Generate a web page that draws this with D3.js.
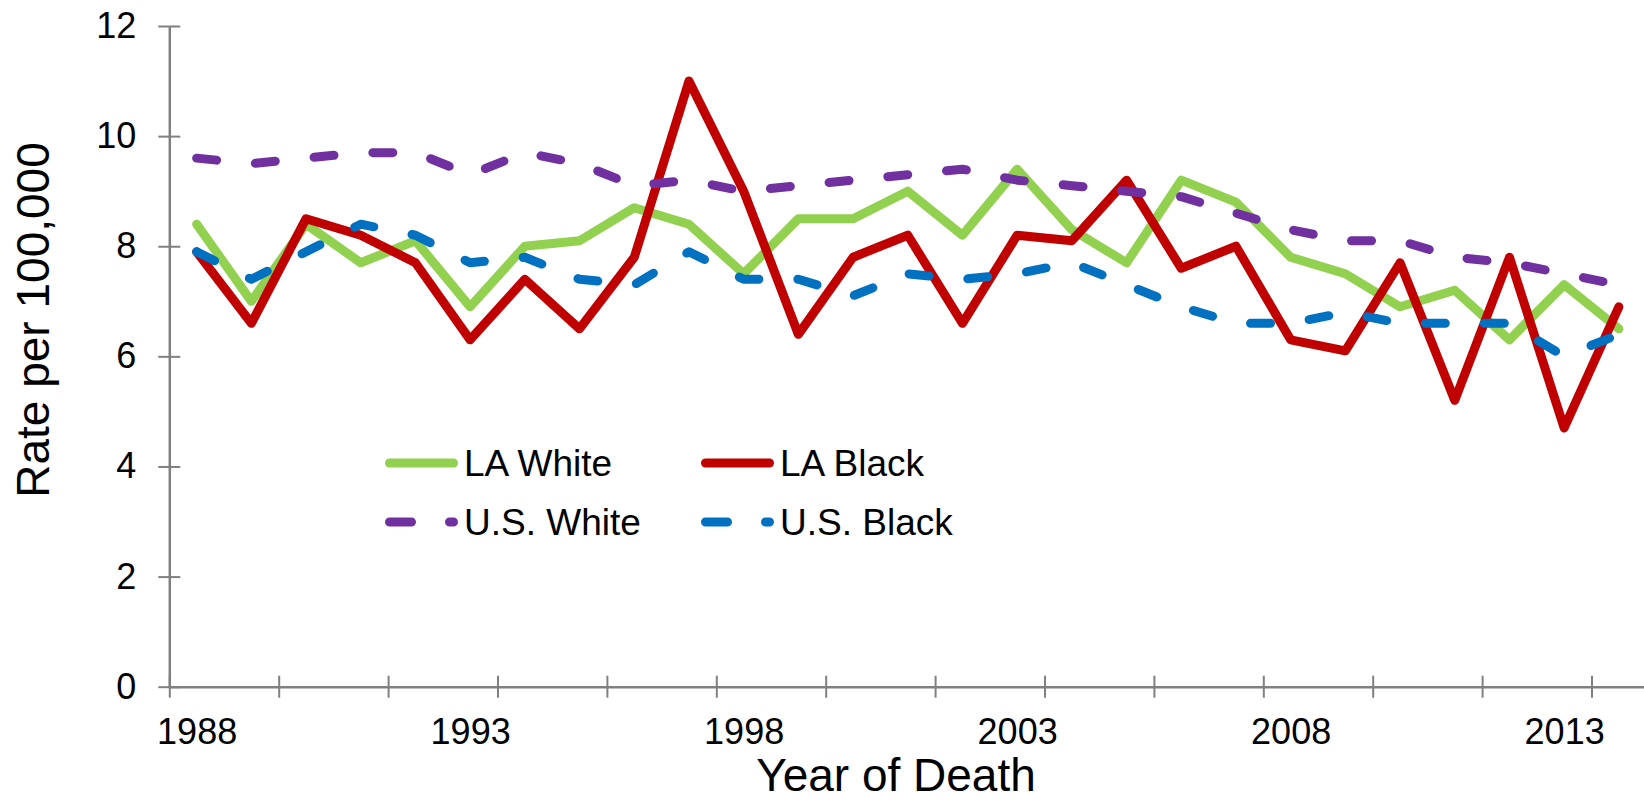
<!DOCTYPE html>
<html>
<head>
<meta charset="utf-8">
<script src="https://cdnjs.cloudflare.com/ajax/libs/d3/7.8.5/d3.min.js"></script>
<style>
  body { margin: 0; background: #fff; }
  svg { display: block; font-family: "Liberation Sans", Arial, sans-serif; }
</style>
</head>
<body>
<div id="chart"></div>
<script>

// data (rate per 100,000)
const years = [1988, 1989, 1990, 1991, 1992, 1993, 1994, 1995, 1996, 1997, 1998, 1999, 2000,
               2001, 2002, 2003, 2004, 2005, 2006, 2007, 2008, 2009, 2010, 2011, 2012, 2013, 2014];

const laWhite = [8.4, 7.0, 8.4, 7.7, 8.1, 6.9, 8.0, 8.1, 8.7, 8.4, 7.5, 8.5, 8.5,
                 9.0, 8.2, 9.4, 8.3, 7.7, 9.2, 8.8, 7.8, 7.5, 6.9, 7.2, 6.3, 7.3, 6.5];

const laBlack = [7.9, 6.6, 8.5, 8.2, 7.7, 6.3, 7.4, 6.5, 7.8, 11.0, 9.0, 6.4, 7.8,
                 8.2, 6.6, 8.2, 8.1, 9.2, 7.6, 8.0, 6.3, 6.1, 7.7, 5.2, 7.8, 4.7, 6.9];

const usWhite = [9.6, 9.5, 9.6, 9.7, 9.7, 9.3, 9.7, 9.5, 9.1, 9.2, 9.0, 9.1, 9.2,
                 9.3, 9.4, 9.2, 9.1, 9.0, 8.9, 8.6, 8.3, 8.1, 8.1, 7.8, 7.7, 7.5, 7.3];

const usBlack = [7.9, 7.4, 7.9, 8.4, 8.2, 7.7, 7.8, 7.4, 7.3, 7.9, 7.4, 7.4, 7.1,
                 7.5, 7.4, 7.5, 7.7, 7.3, 6.9, 6.6, 6.6, 6.8, 6.6, 6.6, 6.6, 6.0, 6.4];

const yTicks = [0, 2, 4, 6, 8, 10, 12];
const xLabelYears = [1988, 1993, 1998, 2003, 2008, 2013];

const seriesNames = ['LA White', 'LA Black', 'U.S. White', 'U.S. Black'];


class RateChart {

  constructor(_parentContainer) {
    this.parentContainer = _parentContainer;
    this.initVis();
  }

  initVis() {
    this.widthTotal  = 1644;
    this.heightTotal = 804;

    this.margin = { top: 26, left: 169.3 };
    this.catWidth = 54.7;
    this.width  = this.catWidth * years.length;
    this.height = 660.7;

    this.axisColor = '#808080';
    this.lineWidth = 9;
    this.dash = '20,39';

    this.svg = d3.select(this.parentContainer)
        .append('svg')
        .attr('width', this.widthTotal)
        .attr('height', this.heightTotal);

    this.g = this.svg.append('g')
        .attr('transform', `translate(${this.margin.left}, ${this.margin.top})`);

    this.series = [
      { name: seriesNames[0], values: laWhite, color: '#92D050', dashed: false },
      { name: seriesNames[1], values: laBlack, color: '#C00000', dashed: false },
      { name: seriesNames[2], values: usWhite, color: '#7030A0', dashed: true },
      { name: seriesNames[3], values: usBlack, color: '#0070C0', dashed: true }
    ];

    this.createScales();
    this.addAxes();
    this.addLines();
    this.addLegend();
  }

  createScales() {
    // categories sit between the tick marks, so pad half a year on each side
    this.xScale = d3.scaleLinear()
        .domain([years[0] - 0.5, years[years.length - 1] + 0.5])
        .range([0, this.width]);

    this.yScale = d3.scaleLinear()
        .domain([0, 12])
        .range([this.height, 0]);
  }

  addAxes() {
    // tick marks every second category boundary
    const boundaries = years.filter((d, i) => i % 2 === 0).map(d => d - 0.5);

    this.xAxisCall = d3.axisBottom(this.xScale)
        .tickValues(boundaries)
        .tickSize(11)
        .tickSizeOuter(0)
        .tickFormat('');

    this.xAxis = this.g.append('g')
        .attr('class', 'x-axis')
        .attr('transform', `translate(0, ${this.height})`)
        .call(this.xAxisCall);

    this.xAxis.selectAll('.tick line').attr('y1', -11);

    // year labels centred under their category
    this.xLabelCall = d3.axisBottom(this.xScale)
        .tickValues(xLabelYears)
        .tickSize(0)
        .tickFormat(d3.format('d'));

    this.xLabels = this.g.append('g')
        .attr('class', 'x-labels')
        .attr('transform', `translate(0, ${this.height})`)
        .call(this.xLabelCall);

    this.xLabels.select('.domain').remove();
    this.xLabels.selectAll('text')
        .attr('y', 57)
        .attr('dy', 0);

    this.yAxisCall = d3.axisLeft(this.yScale)
        .tickValues(yTicks)
        .tickSize(11)
        .tickSizeOuter(0)
        .tickPadding(22);

    this.yAxis = this.g.append('g')
        .attr('class', 'y-axis')
        .call(this.yAxisCall);

    this.yAxis.selectAll('.tick line').attr('x1', 11);

    [this.xAxis, this.yAxis].forEach(ax => {
      ax.select('.domain')
          .attr('stroke', this.axisColor)
          .attr('stroke-width', 2.5);
      ax.selectAll('.tick line')
          .attr('stroke', this.axisColor)
          .attr('stroke-width', 2);
    });

    this.g.selectAll('.x-labels text, .y-axis text')
        .attr('fill', '#000')
        .style('font-family', '"Liberation Sans", Arial, sans-serif')
        .style('font-size', '36px');

    // axis titles
    this.svg.append('text')
        .attr('x', 896)
        .attr('y', 791)
        .attr('text-anchor', 'middle')
        .style('font-size', '46px')
        .text('Year of Death');

    this.svg.append('text')
        .attr('transform', 'translate(49, 320) rotate(-90)')
        .attr('text-anchor', 'middle')
        .style('font-size', '46px')
        .text('Rate per 100,000');
  }

  addLines() {
    this.line = d3.line()
        .x((d, i) => this.xScale(years[i]))
        .y(d => this.yScale(d));

    this.g.selectAll('.series')
      .data(this.series)
      .enter()
      .append('path')
        .attr('class', 'series')
        .attr('d', d => this.line(d.values))
        .attr('fill', 'none')
        .attr('stroke', d => d.color)
        .attr('stroke-width', this.lineWidth)
        .attr('stroke-linejoin', 'round')
        .attr('stroke-linecap', 'round')
        .attr('stroke-dasharray', d => d.dashed ? this.dash : null);
  }

  addLegend() {
    this.legend = this.svg.append('g')
        .attr('class', 'legend')
        .attr('transform', 'translate(385, 463)');

    this.series.forEach((s, idx) => {
      let legendItem = this.legend.append('g')
          .attr('transform', `translate(${(idx % 2) * 316}, ${Math.floor(idx / 2) * 59})`);

      legendItem.append('line')
          .attr('x1', 4.5)
          .attr('x2', 68.5)
          .attr('y1', 0)
          .attr('y2', 0)
          .attr('stroke', s.color)
          .attr('stroke-width', this.lineWidth)
          .attr('stroke-linecap', 'round')
          .attr('stroke-dasharray', s.dashed ? '22,38' : null);

      legendItem.append('text')
          .attr('x', 79)
          .attr('y', 0)
          .attr('dy', '0.35em')
          .style('font-size', '37px')
          .text(s.name);
    });
  }

}

new RateChart('#chart');

</script>
</body>
</html>
